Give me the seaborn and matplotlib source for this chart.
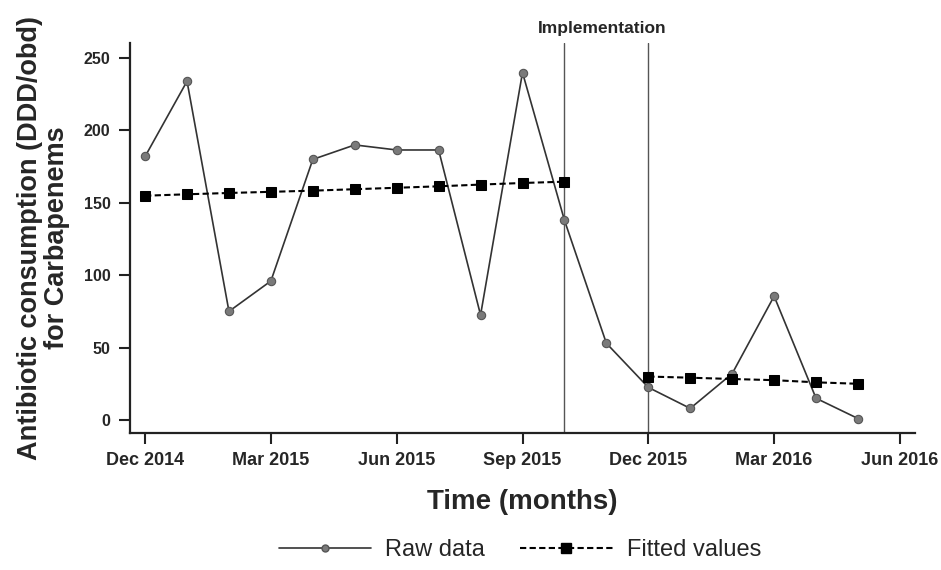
import numpy as np
import pandas as pd
import matplotlib
matplotlib.use("Agg")
import matplotlib.pyplot as plt
import matplotlib.transforms as mtransforms
import seaborn as sns
from matplotlib.lines import Line2D

# ---- data ----
axis_months = ["Dec 2014", "Jan 2015", "Feb 2015", "Mar 2015", "Apr 2015", "May 2015",
               "Jun 2015", "Jul 2015", "Aug 2015", "Sep 2015", "Oct 2015", "Nov 2015",
               "Dec 2015", "Jan 2016", "Feb 2016", "Mar 2016", "Apr 2016", "May 2016",
               "Jun 2016"]
raw_months = axis_months[:18]
raw_values = [182, 234, 75, 96, 180, 190, 186.5, 186.5, 72.5, 240, 138, 53,
              22.5, 8, 32, 85.5, 15, 1]
fitted_pre_months = axis_months[0:11]
fitted_pre_values = [154.9, 155.9, 156.8, 157.6, 158.4, 159.4, 160.4, 161.4,
                     162.6, 163.7, 164.6]
fitted_post_months = axis_months[12:18]
fitted_post_values = [30.0, 29.2, 28.3, 27.5, 26.0, 25.0]
tick_labels = ["Dec 2014", "Mar 2015", "Jun 2015", "Sep 2015", "Dec 2015",
               "Mar 2016", "Jun 2016"]
y_ticks = [0, 50, 100, 150, 200, 250]
implementation_months = ["Oct 2015", "Dec 2015"]

pos = {m: i for i, m in enumerate(axis_months)}
raw_df = pd.DataFrame({"t": [pos[m] for m in raw_months], "v": raw_values})
pre_df = pd.DataFrame({"t": [pos[m] for m in fitted_pre_months], "v": fitted_pre_values})
post_df = pd.DataFrame({"t": [pos[m] for m in fitted_post_months], "v": fitted_post_values})

# ---- style ----
sns.set_style("ticks")
plt.rcParams["font.family"] = ["Liberation Sans", "DejaVu Sans"]

fig = plt.figure(figsize=(9.41, 5.70), dpi=100)
ax = fig.add_axes([130 / 941, 1 - 433 / 570, (915 - 130) / 941, (433 - 43) / 570])

for m in implementation_months:
    ax.axvline(pos[m], color="#555555", lw=1.0, zorder=1)

sns.lineplot(data=raw_df, x="t", y="v", ax=ax, color="#333333", lw=1.2,
             marker="o", markersize=6, markerfacecolor="#7a7a7a",
             markeredgecolor="#555555", markeredgewidth=0.8, zorder=2)
for d in (pre_df, post_df):
    sns.lineplot(data=d, x="t", y="v", ax=ax, color="black", lw=1.5,
                 linestyle=(0, (3, 1.6)), marker="s", markersize=7.5,
                 markerfacecolor="black", markeredgecolor="black", zorder=3)

ax.set_xlim(-0.36, 18.36)
ax.set_ylim(-9, 260.4)
ax.set_xticks([pos[m] for m in tick_labels])
ax.set_xticklabels(tick_labels, fontsize=13, fontweight="bold")
ax.set_yticks(y_ticks)
ax.set_yticklabels([str(v) for v in y_ticks], fontsize=11.5, fontweight="bold")
ax.tick_params(axis="both", direction="out", length=8, width=1.5, color="#222222", pad=6)

for s in ["top", "right"]:
    ax.spines[s].set_visible(False)
for s in ["left", "bottom"]:
    ax.spines[s].set_linewidth(1.6)
    ax.spines[s].set_color("#222222")

ax.set_xlabel("Time (months)", fontsize=20, fontweight="bold", labelpad=14)
ax.set_ylabel("Antibiotic consumption (DDD/obd)\nfor Carbapenems", fontsize=19.5,
              fontweight="bold", labelpad=10, linespacing=1.05)

mid = (pos[implementation_months[0]] + pos[implementation_months[1]]) / 2 - 0.1
ax.text(mid, 1 - 29 / 570, "Implementation",
        transform=mtransforms.blended_transform_factory(ax.transData, fig.transFigure),
        ha="center", va="center", fontsize=12.5, fontweight="bold")

handles = [
    Line2D([], [], color="#333333", lw=1.2, marker="o", markersize=5,
           markerfacecolor="#7a7a7a", markeredgecolor="#555555"),
    Line2D([], [], color="black", lw=1.5, linestyle=(0, (3, 1.6)), marker="s",
           markersize=7, markerfacecolor="black"),
]
fig.legend(handles, ["Raw data", "Fitted values"], loc="center",
           bbox_to_anchor=(520 / 941, 1 - 550 / 570), ncol=2, frameon=False,
           fontsize=17, handlelength=3.9, columnspacing=1.5, handletextpad=0.6)

fig.savefig("out.png", dpi=100)
